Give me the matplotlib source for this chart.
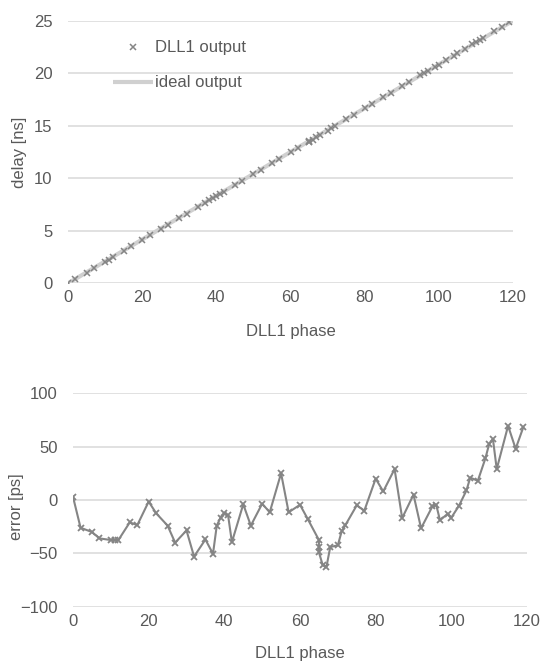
import matplotlib
matplotlib.use("Agg")
import matplotlib.pyplot as plt

plt.rcParams['font.family'] = ['Liberation Sans', 'DejaVu Sans']

# DLL1 phase values (shared by both charts)
phase = [0, 2, 5, 7, 10, 11, 12, 15, 17, 20, 22, 25, 27, 30, 32, 35, 37, 38, 39, 40,
         41, 42, 45, 47, 50, 52, 55, 57, 60, 62, 65, 65, 65, 66, 67, 68, 70, 71, 72, 75,
         77, 80, 82, 85, 87, 90, 92, 95, 96, 97, 99, 100, 102, 104, 105, 107, 109, 110,
         111, 112, 115, 117, 119]

# measured delay [ns]
delay_ns = [0.003, 0.391, 1.012, 1.422, 2.046, 2.254, 2.463, 3.104, 3.518, 4.165,
            4.571, 5.184, 5.585, 6.222, 6.614, 7.255, 7.658, 7.893, 8.109, 8.321,
            8.527, 8.711, 9.371, 9.768, 10.413, 10.822, 11.483, 11.864, 12.496, 12.899,
            13.504, 13.498, 13.493, 13.689, 13.896, 14.123, 14.541, 14.762, 14.977, 15.620,
            16.032, 16.687, 17.091, 17.737, 18.108, 18.755, 19.140, 19.786, 19.996, 20.189,
            20.612, 20.817, 21.245, 21.676, 21.896, 22.310, 22.747, 22.969, 23.182, 23.362,
            24.028, 24.423, 24.860]

# error [ps]
error_ps = [3, -26, -30, -36, -37.5, -37.5, -37.5, -21, -23.5, -1.5,
            -12.5, -24, -40, -28.5, -53, -37, -50.5, -24, -16.5, -12.5,
            -14.5, -39.5, -4, -24, -3.5, -11.5, 25, -11.5, -4.5, -17.5,
            -37.5, -44, -49, -61, -62.5, -44, -42.5, -29.5, -23.5, -5,
            -10, 20, 8, 29, -17, 5, -26.5, -6, -4.5, -19,
            -13, -16.5, -5.5, 9, 21, 18, 39, 52.5, 57, 29,
            69.5, 48, 68]

# ideal output line
ideal_phase = [0, 120]
ideal_delay = [0, 25]

top_yticks = [0, 5, 10, 15, 20, 25]
bot_yticks = [-100, -50, 0, 50, 100]
xticks = [0, 20, 40, 60, 80, 100, 120]

TXT = '#595959'
GRID = '#d9d9d9'
MARK = '#858585'
FS = 12

fig = plt.figure(figsize=(5.43, 6.66), dpi=100)
W, H = 543, 666

def add_ax(l, r, t, b):
    return fig.add_axes([l / W, 1 - b / H, (r - l) / W, (b - t) / H])

ax1 = add_ax(68, 513, 20.7, 283.3)
ax2 = add_ax(73, 527, 393.3, 606.7)

for ax in (ax1, ax2):
    for s in ax.spines.values():
        s.set_visible(False)
    ax.tick_params(length=0, labelsize=FS, labelcolor=TXT)
    ax.tick_params(axis='y', pad=11)
    ax.tick_params(axis='x', pad=5)
    ax.grid(axis='y', color=GRID, lw=1.1)
    ax.set_axisbelow(True)
    ax.set_xlim(0, 120)
    ax.set_xticks(xticks)

# top chart
ax1.plot(ideal_phase, ideal_delay, color='#d0d0d0', lw=3, solid_capstyle='butt',
         label='ideal output', zorder=2)
ax1.plot(phase, delay_ns, ls='none', marker='x', color=MARK, ms=4.5, mew=1.1,
         label='DLL1 output', zorder=3)
ax1.set_ylim(0, 25)
ax1.set_yticks(top_yticks)
ax1.set_xlabel('DLL1 phase', fontsize=FS, color=TXT)
ax1.set_ylabel('delay [ns]', fontsize=FS, color=TXT)
ax1.xaxis.set_label_coords(0.5, -0.155)
ax1.yaxis.set_label_coords(-0.092, 0.5)
h, l = ax1.get_legend_handles_labels()
ax1.legend([h[1], h[0]], [l[1], l[0]], loc='upper left', bbox_to_anchor=(0.101, 0.925),
           frameon=False, fontsize=FS, labelcolor=TXT, borderpad=0, borderaxespad=0,
           handlelength=2.4, handletextpad=0.1, labelspacing=1.2)

# bottom chart
ax2.plot(phase, error_ps, color=MARK, lw=1.5, marker='x', ms=5, mew=1.3, zorder=3)
ax2.set_ylim(-100, 100)
ax2.set_yticks(bot_yticks)
ax2.set_xlabel('DLL1 phase', fontsize=FS, color=TXT)
ax2.set_ylabel('error [ps]', fontsize=FS, color=TXT)
ax2.xaxis.set_label_coords(0.5, -0.185)
ax2.yaxis.set_label_coords(-0.108, 0.47)

fig.savefig('out.png', dpi=100)
